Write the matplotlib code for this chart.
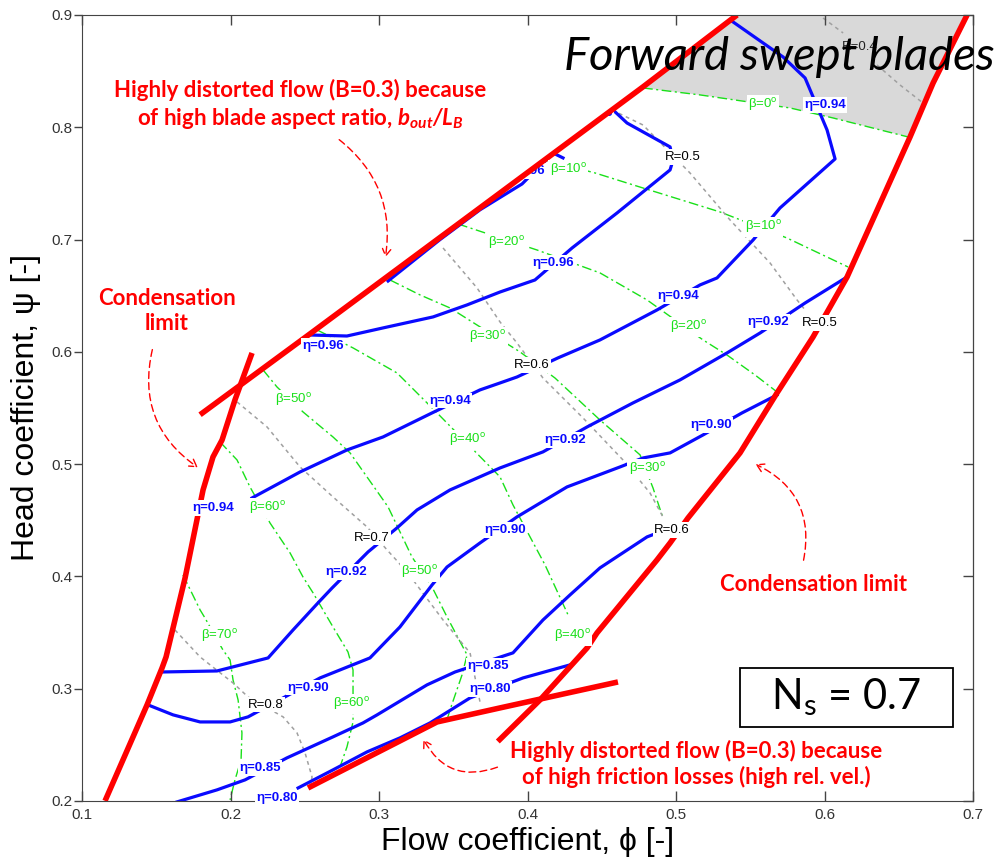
import numpy as np
import matplotlib.pyplot as plt
from matplotlib.patches import Polygon, Rectangle, FancyArrowPatch

plt.rcParams['font.family'] = ['Liberation Sans', 'DejaVu Sans']
plt.rcParams['mathtext.fontset'] = 'custom'
plt.rcParams['mathtext.rm'] = 'Lato'
plt.rcParams['mathtext.it'] = 'Lato:italic'
plt.rcParams['mathtext.bf'] = 'Lato:bold'
plt.rcParams['mathtext.bfit'] = 'Lato:italic:bold'

# axis ticks
x_ticks = [0.1, 0.2, 0.3, 0.4, 0.5, 0.6, 0.7]
x_tick_labels = ['0.1', '0.2', '0.3', '0.4', '0.5', '0.6', '0.7']
y_ticks = [0.2, 0.3, 0.4, 0.5, 0.6, 0.7, 0.8, 0.9]
y_tick_labels = ['0.2', '0.3', '0.4', '0.5', '0.6', '0.7', '0.8', '0.9']

# operating limits (phi, psi)
lim_aspect = np.array([[0.1795, 0.544], [0.2535, 0.616], [0.3815, 0.7415],
                       [0.4778, 0.836], [0.5411, 0.900]])
lim_cond_left = np.array([[0.1155, 0.2001], [0.1438, 0.2856], [0.1539, 0.3185],
                          [0.1566, 0.3283], [0.1694, 0.3986], [0.1815, 0.4770],
                          [0.1882, 0.5064], [0.1943, 0.5215], [0.2030, 0.5572],
                          [0.2145, 0.5990]])
lim_cond_right = np.array([[0.6960, 0.900], [0.6731, 0.8394], [0.6576, 0.7914],
                           [0.6152, 0.6667], [0.5923, 0.6133], [0.5680, 0.5634],
                           [0.5431, 0.5100], [0.5081, 0.4521], [0.4960, 0.4298],
                           [0.4872, 0.4147], [0.4468, 0.3497], [0.4401, 0.3363],
                           [0.4084, 0.2900], [0.3800, 0.2530]])
lim_friction = np.array([[0.2522, 0.2116], [0.3391, 0.2704], [0.3815, 0.2829],
                         [0.4609, 0.3060]])

# efficiency contours
eta_096 = np.array([[0.2535, 0.6150], [0.2784, 0.6141], [0.3027, 0.6213], [0.3364, 0.6311],
                    [0.3593, 0.6418], [0.3815, 0.6533], [0.4050, 0.6640], [0.4300, 0.6925],
                    [0.4603, 0.7237], [0.4960, 0.7620], [0.4980, 0.7709], [0.4960, 0.7825],
                    [0.4670, 0.8038], [0.4576, 0.8154]])
eta_096_top = np.array([[0.3061, 0.6631], [0.3411, 0.7000], [0.3680, 0.7265],
                        [0.3963, 0.7495], [0.4172, 0.7771], [0.4239, 0.7727]])
eta_094 = np.array([[0.2145, 0.4699], [0.2468, 0.4930], [0.2784, 0.5126], [0.3027, 0.5242],
                    [0.3357, 0.5456], [0.3680, 0.5661], [0.3815, 0.5723], [0.3929, 0.5776],
                    [0.4205, 0.5946], [0.4488, 0.6106], [0.4872, 0.6373], [0.5162, 0.6596],
                    [0.5276, 0.6658], [0.5519, 0.6996], [0.5700, 0.7281], [0.6071, 0.7718],
                    [0.6017, 0.7976], [0.5869, 0.8439], [0.5721, 0.8626], [0.5384, 0.8938]])
eta_092 = np.array([[0.1545, 0.3149], [0.1909, 0.3158], [0.2253, 0.3274], [0.2421, 0.3523],
                    [0.2589, 0.3764], [0.2684, 0.3897], [0.2926, 0.4218], [0.3121, 0.4432],
                    [0.3256, 0.4592], [0.3478, 0.4770], [0.3815, 0.4966], [0.4104, 0.5109],
                    [0.4401, 0.5331], [0.4710, 0.5545], [0.5027, 0.5750], [0.5343, 0.5990],
                    [0.5566, 0.6168], [0.5869, 0.6435], [0.6152, 0.6667]])
eta_090 = np.array([[0.1444, 0.2856], [0.1613, 0.2767], [0.1795, 0.2704], [0.1997, 0.2704],
                    [0.2118, 0.2749], [0.2603, 0.3096], [0.2939, 0.3274], [0.3141, 0.3550],
                    [0.3357, 0.3924], [0.3458, 0.4084], [0.3680, 0.4298], [0.3929, 0.4530],
                    [0.4266, 0.4797], [0.4623, 0.4975], [0.4778, 0.5055], [0.4960, 0.5100],
                    [0.5182, 0.5260], [0.5444, 0.5456], [0.5680, 0.5616]])
eta_085 = np.array([[0.1640, 0.1992], [0.1909, 0.2099], [0.2098, 0.2188], [0.2380, 0.2384],
                    [0.2690, 0.2571], [0.2892, 0.2695], [0.2987, 0.2767], [0.3323, 0.3034],
                    [0.3512, 0.3149], [0.3902, 0.3319], [0.4104, 0.3612], [0.4286, 0.3835],
                    [0.4488, 0.4076], [0.4805, 0.4352], [0.4892, 0.4396]])
eta_080 = np.array([[0.2455, 0.2116], [0.2690, 0.2277], [0.2919, 0.2437], [0.3141, 0.2562],
                    [0.3343, 0.2695], [0.3613, 0.2918], [0.3970, 0.3096], [0.4286, 0.3212]])

# blade angle lines
beta_00 = np.array([[0.4778, 0.8350], [0.5162, 0.8288], [0.5768, 0.8172],
                    [0.6057, 0.8083], [0.6562, 0.7914]])
beta_10 = np.array([[0.4118, 0.7709], [0.4455, 0.7593], [0.4778, 0.7459], [0.5296, 0.7246],
                    [0.5747, 0.7014], [0.6158, 0.6756]])
beta_20 = np.array([[0.3532, 0.7139], [0.3694, 0.7068], [0.4064, 0.6907], [0.4488, 0.6703],
                    [0.4805, 0.6462], [0.5182, 0.6106], [0.5343, 0.5972], [0.5532, 0.5794],
                    [0.5680, 0.5643]])
beta_30 = np.array([[0.3074, 0.6640], [0.3276, 0.6507], [0.3478, 0.6391], [0.3660, 0.6239],
                    [0.3950, 0.5999], [0.4185, 0.5767], [0.4488, 0.5393], [0.4758, 0.5082],
                    [0.4845, 0.4788], [0.4912, 0.4521]])
beta_40 = np.array([[0.2583, 0.6195], [0.2825, 0.6035], [0.3121, 0.5812], [0.3391, 0.5456],
                    [0.3815, 0.4886], [0.3902, 0.4637], [0.4118, 0.4102], [0.4273, 0.3657]])
beta_50 = np.array([[0.2219, 0.5839], [0.2313, 0.5687], [0.2488, 0.5465], [0.2690, 0.5242],
                    [0.2805, 0.5100], [0.2919, 0.4886], [0.3061, 0.4619], [0.3222, 0.4173],
                    [0.3357, 0.3906], [0.3458, 0.3639], [0.3593, 0.3301], [0.3559, 0.3123],
                    [0.3478, 0.2811], [0.3458, 0.2722]])
beta_60 = np.array([[0.1929, 0.5198], [0.2044, 0.5037], [0.2131, 0.4797], [0.2266, 0.4476],
                    [0.2401, 0.4209], [0.2488, 0.3995], [0.2556, 0.3853], [0.2690, 0.3550],
                    [0.2791, 0.3327], [0.2825, 0.3167], [0.2825, 0.3060], [0.2825, 0.2704],
                    [0.2784, 0.2481], [0.2737, 0.2303]])
beta_70 = np.array([[0.1680, 0.4013], [0.1795, 0.3702], [0.1828, 0.3630], [0.1949, 0.3345],
                    [0.1997, 0.3256], [0.2017, 0.3078], [0.2051, 0.2900], [0.2077, 0.2606],
                    [0.2071, 0.2366], [0.2030, 0.2188], [0.1997, 0.2010]])

# degree of reaction lines
r_04_upper = np.array([[0.5990, 0.8973], [0.6125, 0.8840]])
r_04_lower = np.array([[0.6353, 0.8555], [0.6508, 0.8377], [0.6663, 0.8216]])
r_05 = np.array([[0.4569, 0.8154], [0.4778, 0.8020], [0.5094, 0.7593], [0.5364, 0.7174],
                 [0.5633, 0.6792], [0.5815, 0.6462], [0.5869, 0.6373]])
r_06 = np.array([[0.3431, 0.6925], [0.3660, 0.6569], [0.3815, 0.6266], [0.3929, 0.6079],
                 [0.4104, 0.5767], [0.4374, 0.5411], [0.4643, 0.5037], [0.4825, 0.4743],
                 [0.4912, 0.4530]])
r_07 = np.array([[0.2044, 0.5554], [0.2246, 0.5331], [0.2468, 0.4975], [0.2690, 0.4708],
                 [0.2919, 0.4441], [0.3054, 0.4236], [0.3128, 0.4129], [0.3229, 0.3969],
                 [0.3431, 0.3612], [0.3613, 0.3319], [0.3680, 0.2882]])
r_08 = np.array([[0.1626, 0.3523], [0.1795, 0.3283], [0.2017, 0.3051], [0.2118, 0.2927],
                 [0.2354, 0.2749], [0.2448, 0.2606], [0.2502, 0.2428], [0.2549, 0.2214],
                 [0.2535, 0.2099]])

# inline contour labels (text, phi, psi)
eta_labels = [('η=0.96', 0.2623, 0.6052), ('η=0.96', 0.4172, 0.6792),
              ('η=0.94', 0.1882, 0.4610), ('η=0.94', 0.3478, 0.5563),
              ('η=0.94', 0.5013, 0.6498), ('η=0.94', 0.6003, 0.8199),
              ('η=0.92', 0.2778, 0.4040), ('η=0.92', 0.4253, 0.5215),
              ('η=0.92', 0.5620, 0.6266),
              ('η=0.90', 0.2522, 0.3007), ('η=0.90', 0.3848, 0.4414),
              ('η=0.90', 0.5236, 0.5349),
              ('η=0.85', 0.2199, 0.2294), ('η=0.85', 0.3734, 0.3203),
              ('η=0.80', 0.2313, 0.2027), ('η=0.80', 0.3747, 0.2998)]
# labels cut by the aspect-ratio limit
eta_labels_cut = [('η=0.96', 0.4434, 0.8127), ('η=0.96', 0.3975, 0.7611)]
beta_labels = [('0', 0.5586, 0.8199), ('10', 0.4273, 0.7620), ('10', 0.5586, 0.7112),
               ('20', 0.3862, 0.6970), ('20', 0.5081, 0.6222),
               ('30', 0.3734, 0.6133), ('30', 0.4805, 0.4957),
               ('40', 0.3593, 0.5215), ('40', 0.4300, 0.3470),
               ('50', 0.2421, 0.5572), ('50', 0.3276, 0.4040),
               ('60', 0.2246, 0.4610), ('60', 0.2818, 0.2865),
               ('70', 0.1929, 0.3470)]
r_labels = [('R=0.5', 0.5047, 0.7735), ('R=0.5', 0.5970, 0.6257),
            ('R=0.6', 0.4030, 0.5883), ('R=0.6', 0.4973, 0.4414),
            ('R=0.7', 0.2953, 0.4343), ('R=0.8', 0.2239, 0.2856)]
r_label_shaded = ('R=0.4', 0.6239, 0.8715)

RED = '#ff0000'
BLUE = '#0a0aff'
GREEN = '#19e019'
GREY = '#a0a0a0'

fig = plt.figure(figsize=(9.99, 8.61), dpi=100)
ax = fig.add_axes([0.0821, 0.0697, 0.8919, 0.9129])
ax.set_xlim(0.1, 0.7)
ax.set_ylim(0.2, 0.9)

# shaded corner above beta = 0
top_edge = lim_aspect[lim_aspect[:, 0] >= beta_00[0, 0] - 1e-6]
right_edge = lim_cond_right[lim_cond_right[:, 1] >= beta_00[-1, 1] - 1e-6]
shade = np.vstack([top_edge, right_edge, beta_00[::-1]])
ax.add_patch(Polygon(shade, closed=True, facecolor='#d9d9d9', edgecolor='none', zorder=1))

for line in [beta_00, beta_10, beta_20, beta_30, beta_40, beta_50, beta_60, beta_70]:
    ax.plot(line[:, 0], line[:, 1], color=GREEN, lw=1.0, dashes=(7, 2.5, 1.5, 2.5), zorder=2)
for line in [r_04_upper, r_04_lower, r_05, r_06, r_07, r_08]:
    ax.plot(line[:, 0], line[:, 1], color=GREY, lw=1.1, dashes=(2.5, 2.5), zorder=2)
for line in [eta_096, eta_096_top, eta_094, eta_092, eta_090, eta_085, eta_080]:
    ax.plot(line[:, 0], line[:, 1], color=BLUE, lw=2.3, zorder=3)

box = dict(boxstyle='square,pad=0.12', facecolor='white', edgecolor='none')
for txt, x, y in eta_labels:
    zo = 11 if y < 0.21 else 8
    ax.text(x, y, txt, color=BLUE, fontsize=9.5, fontweight='bold', ha='center', va='center',
            bbox=box, zorder=zo, clip_on=False)
for txt, x, y in eta_labels_cut:
    ax.text(x, y, txt, color=BLUE, fontsize=9.5, fontweight='bold', ha='center', va='center',
            bbox=box, zorder=5)
for ang, x, y in beta_labels:
    ax.text(x, y, 'β=' + ang + r'$^{\mathrm{o}}$', color=GREEN, fontsize=9.5,
            ha='center', va='center', bbox=box, zorder=8)
for txt, x, y in r_labels:
    ax.text(x, y, txt, color='black', fontsize=9.5, ha='center', va='center', bbox=box, zorder=8)
ax.text(r_label_shaded[1], r_label_shaded[2], r_label_shaded[0], color='#222222', fontsize=9.5,
        ha='center', va='center', zorder=5)

# blank out everything above the aspect-ratio limit
mask = np.vstack([lim_aspect[1:], [[0.1, 0.9], [0.1, lim_aspect[1, 1]]]])
ax.add_patch(Polygon(mask, closed=True, facecolor='white', edgecolor='none', zorder=6))

for line in [lim_aspect, lim_cond_left, lim_cond_right, lim_friction]:
    ax.plot(line[:, 0], line[:, 1], color=RED, lw=4, zorder=7, solid_capstyle='butt')

# annotations
note = dict(color=RED, fontsize=16, fontweight='bold', family='Lato', ha='center',
            va='center', zorder=9, linespacing=1.25)
ax.text(0.2468, 0.8199, 'Highly distorted flow (B=0.3) because\n'
        r'of high blade aspect ratio, $\mathbfit{b_{out}/L_B}$', **note)
ax.text(0.1572, 0.6364, 'Condensation\nlimit', **note)
ax.text(0.5923, 0.3924, 'Condensation limit', **note)
ax.text(0.5135, 0.2330, 'Highly distorted flow (B=0.3) because\n'
        'of high friction losses (high rel. vel.)', **note)

arrows = [((0.2717, 0.7905), (0.3040, 0.6818), -0.3),
          ((0.1478, 0.6044), (0.1795, 0.4957), 0.35),
          ((0.5855, 0.4120), (0.5519, 0.5010), 0.4),
          ((0.3815, 0.2310), (0.3290, 0.2571), -0.45)]
for start, end, rad in arrows:
    ax.add_patch(FancyArrowPatch(start, end, connectionstyle=f'arc3,rad={rad}',
                                 arrowstyle='->,head_length=5,head_width=3', color=RED,
                                 lw=1.0, linestyle=(0, (5, 3)), zorder=9))

ax.text(0.5694, 0.8626, 'Forward swept blades', fontsize=34, style='italic', family='Lato',
        color='black', ha='center', va='center', zorder=12, clip_on=False)

ax.add_patch(Rectangle((0.5431, 0.2660), 0.1434, 0.0525, facecolor='white',
                       edgecolor='black', lw=1.3, zorder=9))
ax.text(0.6145, 0.2927, r'$\mathrm{N_s}$ = 0.7', fontsize=30, family='Lato',
        ha='center', va='center', zorder=10)

ax.set_xticks(x_ticks)
ax.set_xticklabels(x_tick_labels)
ax.set_yticks(y_ticks)
ax.set_yticklabels(y_tick_labels)
ax.tick_params(axis='x', direction='in', top=True, length=7, width=1, colors='#444444',
               labelcolor='#333333', labelsize=11, pad=5)
ax.tick_params(axis='y', direction='out', length=6, width=1, colors='#444444',
               labelcolor='#333333', labelsize=11, pad=1)
right = ax.secondary_yaxis('right')
right.set_yticks(y_ticks)
right.tick_params(direction='in', length=7, width=1, colors='#444444', labelright=False)
for sp in ax.spines.values():
    sp.set_color('#444444')
    sp.set_zorder(10)
ax.xaxis.set_zorder(10)
ax.yaxis.set_zorder(10)

ax.set_xlabel('Flow coefficient, ϕ [-]', fontsize=23, labelpad=4)
ax.set_ylabel('Head coefficient, ψ [-]', fontsize=23, labelpad=7)

fig.savefig('out.png', dpi=100)
